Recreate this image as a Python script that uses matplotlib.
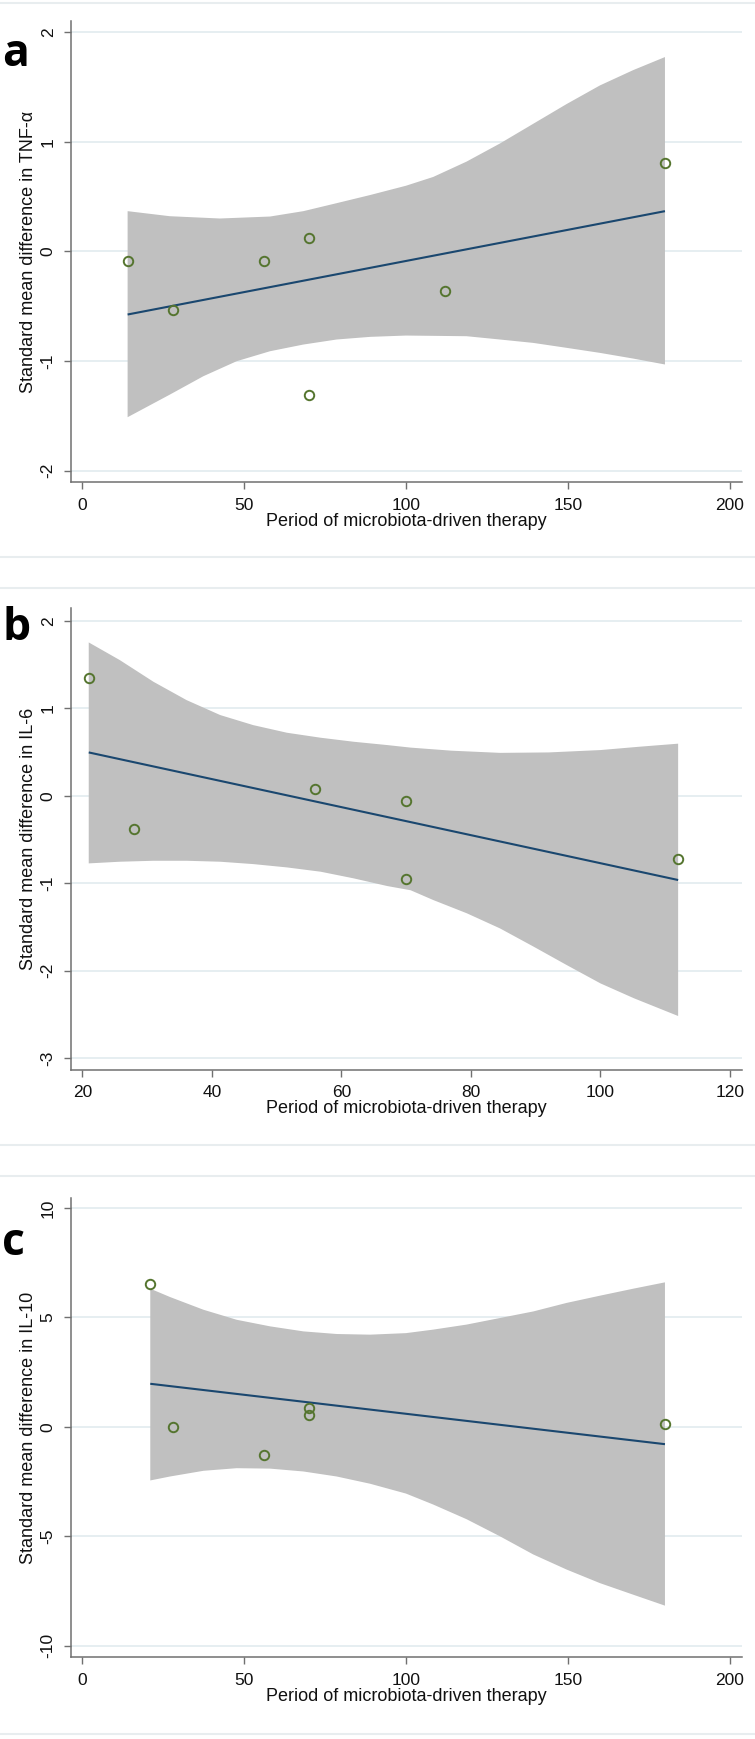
import matplotlib
matplotlib.use("Agg")
import matplotlib.pyplot as plt
from matplotlib.lines import Line2D

plt.rcParams['font.family'] = ['Liberation Sans', 'DejaVu Sans']

# ---------------- data ----------------
# Panel a: TNF-alpha
a_x = [14, 28, 56, 70, 70, 112, 180]
a_y = [-0.09, -0.53, -0.09, 0.12, -1.31, -0.36, 0.81]
a_fit_x = [14, 180]
a_fit_y = [-0.575, 0.368]
a_up_x = [14, 27, 42.5, 58, 68.3, 78.6, 88.9, 100, 108.4, 118.7, 129, 139.3, 149.6, 159.9, 170.2, 180]
a_up_y = [0.368, 0.322, 0.301, 0.319, 0.368, 0.441, 0.515, 0.600, 0.680, 0.820, 0.985, 1.165, 1.345, 1.515, 1.655, 1.774]
a_lo_x = [14, 27.1, 37.4, 47.7, 58, 68.3, 78.6, 88.9, 100, 118.7, 129, 139.3, 149.6, 159.9, 170.2, 180]
a_lo_y = [-1.512, -1.305, -1.138, -1.001, -0.910, -0.849, -0.803, -0.779, -0.767, -0.773, -0.803, -0.834, -0.879, -0.925, -0.977, -1.031]

# Panel b: IL-6
b_x = [21, 28, 56, 70, 70, 112]
b_y = [1.34, -0.385, 0.08, -0.06, -0.948, -0.724]
b_fit_x = [21, 112]
b_fit_y = [0.495, -0.963]
b_up_x = [21, 25.8, 31.0, 36.1, 41.3, 46.4, 51.6, 56.8, 61.9, 67.1, 70.7, 77, 84.5, 92, 100, 106, 112]
b_up_y = [1.752, 1.55, 1.302, 1.093, 0.922, 0.807, 0.72, 0.663, 0.617, 0.579, 0.55, 0.515, 0.49, 0.495, 0.522, 0.560, 0.595]
b_lo_x = [21, 25.8, 31.0, 36.1, 41.3, 46.4, 51.6, 56.8, 61.9, 67.1, 70.7, 74.2, 79.4, 84.5, 89.7, 94.8, 100, 105.2, 112]
b_lo_y = [-0.773, -0.754, -0.743, -0.743, -0.754, -0.781, -0.819, -0.868, -0.944, -1.032, -1.08, -1.192, -1.344, -1.516, -1.725, -1.935, -2.144, -2.315, -2.517]

# Panel c: IL-10
c_x = [21, 28, 56, 70, 70, 180]
c_y = [6.52, 0.0, -1.30, 0.88, 0.53, 0.12]
c_fit_x = [21, 180]
c_fit_y = [1.966, -0.793]
c_up_x = [21, 27.1, 37.4, 47.7, 58, 68.3, 78.6, 88.9, 100, 108.4, 118.7, 129, 139.3, 149.6, 159.9, 170.2, 180]
c_up_y = [6.31, 5.93, 5.35, 4.89, 4.59, 4.36, 4.24, 4.21, 4.28, 4.44, 4.67, 4.97, 5.27, 5.66, 5.99, 6.31, 6.60]
c_lo_x = [21, 27.1, 37.4, 47.7, 58, 68.3, 78.6, 88.9, 100, 108.4, 118.7, 129, 139.3, 149.6, 159.9, 170.2, 180]
c_lo_y = [-2.45, -2.27, -2.01, -1.89, -1.91, -2.04, -2.27, -2.60, -3.05, -3.55, -4.22, -5.00, -5.83, -6.52, -7.14, -7.67, -8.17]

xlabel = "Period of microbiota-driven therapy"
ylabels = ["Standard mean difference in TNF-α",
           "Standard mean difference in IL-6",
           "Standard mean difference in IL-10"]
letters = ["a", "b", "c"]
a_xticks = [0, 50, 100, 150, 200]
b_xticks = [20, 40, 60, 80, 100, 120]
c_xticks = [0, 50, 100, 150, 200]
a_yticks = [-2, -1, 0, 1, 2]
b_yticks = [-3, -2, -1, 0, 1, 2]
c_yticks = [-10, -5, 0, 5, 10]

# ---------------- style ----------------
BAND = '#c0c0c0'
LINE = '#1a476f'
MARK = '#55752f'
GRID = '#e4edf0'
AXC = '#707070'

W, H = 755, 1739
fig = plt.figure(figsize=(W / 100, H / 100), dpi=100)
fig.patch.set_facecolor('white')

# separator lines between the three panels
for yy in [3, 557, 588, 1145, 1176, 1734]:
    fig.add_artist(Line2D([0, 1], [1 - yy / H, 1 - yy / H], color='#e8edef', lw=1.5,
                          transform=fig.transFigure))

def make_axes(top_px, bottom_px):
    left_px, right_px = 71, 742
    return fig.add_axes([left_px / W, 1 - bottom_px / H,
                         (right_px - left_px) / W, (bottom_px - top_px) / H])

panels = [
    dict(ax=make_axes(21.5, 482.3), xlim=(-3.49, 203.8), ylim=(-2.106, 2.0985),
         xt=a_xticks, yt=a_yticks, x=a_x, y=a_y, fx=a_fit_x, fy=a_fit_y,
         ux=a_up_x, uy=a_up_y, lx=a_lo_x, ly=a_lo_y),
    dict(ax=make_axes(608.3, 1070), xlim=(18.26, 121.86), ylim=(-3.134, 2.142),
         xt=b_xticks, yt=b_yticks, x=b_x, y=b_y, fx=b_fit_x, fy=b_fit_y,
         ux=b_up_x, uy=b_up_y, lx=b_lo_x, ly=b_lo_y),
    dict(ax=make_axes(1198.3, 1657.3), xlim=(-3.49, 203.8), ylim=(-10.53, 10.44),
         xt=c_xticks, yt=c_yticks, x=c_x, y=c_y, fx=c_fit_x, fy=c_fit_y,
         ux=c_up_x, uy=c_up_y, lx=c_lo_x, ly=c_lo_y),
]

for i, p in enumerate(panels):
    ax = p['ax']
    # band polygon from read boundary points
    poly_x = list(p['ux']) + list(p['lx'])[::-1]
    poly_y = list(p['uy']) + list(p['ly'])[::-1]
    ax.fill(poly_x, poly_y, color=BAND, lw=0, zorder=2)
    ax.plot(p['fx'], p['fy'], color=LINE, lw=1.5, zorder=3, solid_capstyle='butt')
    ax.plot(p['x'], p['y'], linestyle='none', marker='o', markersize=6.8,
            markerfacecolor='none', markeredgecolor=MARK, markeredgewidth=1.4, zorder=4)

    ax.set_xlim(*p['xlim'])
    ax.set_ylim(*p['ylim'])
    ax.set_xticks(p['xt'])
    ax.set_yticks(p['yt'])
    ax.set_yticklabels([str(v) for v in p['yt']], rotation=90, va='center')
    ax.set_axisbelow(True)
    ax.grid(axis='y', color=GRID, lw=1.3)
    ax.grid(axis='x', visible=False)
    for s in ['top', 'right']:
        ax.spines[s].set_visible(False)
    for s in ['left', 'bottom']:
        ax.spines[s].set_color(AXC)
        ax.spines[s].set_linewidth(1.1)
    ax.tick_params(axis='both', direction='out', length=5, width=1.0, color=AXC,
                   labelsize=12.5, labelcolor='#111111', pad=6)
    ax.set_xlabel(xlabel, fontsize=13, color='#111111', labelpad=0)
    ax.set_ylabel(ylabels[i], fontsize=13, color='#111111', labelpad=3)
    ax.set_facecolor('white')

letter_base = [66, 640, 1255]
for i, L in enumerate(letters):
    fig.text(2 / W, 1 - letter_base[i] / H, L, fontsize=32, fontweight='bold',
             family=['Open Sans', 'DejaVu Sans'], va='baseline', ha='left', color='black')

fig.savefig('out.png', dpi=100, facecolor='white')
